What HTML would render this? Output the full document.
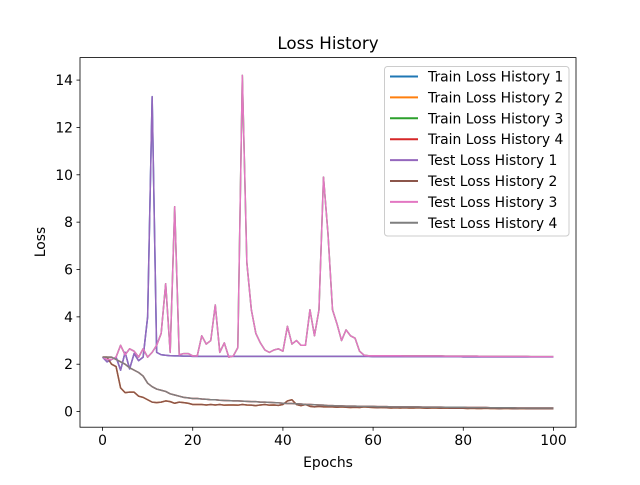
<!DOCTYPE html>
<html><head><meta charset="utf-8"><style>
body{margin:0;background:#fff;}
svg text{font-family:"DejaVu Sans","Liberation Sans",sans-serif;fill:#000;}
</style></head><body>
<svg id="chart" width="640" height="480" viewBox="0 0 640 480" xmlns="http://www.w3.org/2000/svg">
<rect width="640" height="480" fill="#fff"/>
<text x="328" y="49" font-size="16.7" text-anchor="middle">Loss History</text>
<g id="ticks"></g>
<g id="lines"></g>
<rect x="80" y="57.6" width="496" height="369.6" fill="none" stroke="#000" stroke-width="0.8"/>
<text x="328" y="467" font-size="13.9" text-anchor="middle">Epochs</text>
<text x="45" y="242" font-size="13.9" text-anchor="middle" transform="rotate(-90 45 242)">Loss</text>
<g id="legend"></g>
</svg>
<script>
const epochsMax = 100;
const xTicks = [0,20,40,60,80,100];
const yTicks = [0,2,4,6,8,10,12,14];
const seriesNames = ["Train Loss History 1","Train Loss History 2","Train Loss History 3","Train Loss History 4","Test Loss History 1","Test Loss History 2","Test Loss History 3","Test Loss History 4"];
const seriesColors = ["#1f77b4","#ff7f0e","#2ca02c","#d62728","#9467bd","#8c564b","#e377c2","#7f7f7f"];
const spikeA = [2.3,2.1,2.2,2.3,1.75,2.5,1.8,2.45,2.15,2.3,4.0,13.3,2.5,2.4,2.38,2.36,2.35,2.35,2.34,2.34,
2.33,2.33,2.33,2.33,2.33,2.33,2.33,2.33,2.33,2.33,2.33,2.33,2.33,2.33,2.33,2.33,2.33,2.33,2.33,2.33,
2.33,2.33,2.33,2.33,2.33,2.33,2.33,2.33,2.33,2.33,2.33,2.33,2.33,2.33,2.33,2.33,2.33,2.33,2.33,2.33,
2.32,2.32,2.32,2.32,2.32,2.32,2.32,2.32,2.32,2.32,2.32,2.32,2.32,2.32,2.32,2.32,2.32,2.32,2.32,2.32,
2.31,2.31,2.31,2.31,2.31,2.31,2.31,2.31,2.31,2.31,2.31,2.31,2.31,2.31,2.31,2.31,2.31,2.31,2.31,2.31,2.31];
const spikeB = [2.3,2.2,2.2,2.3,2.8,2.4,2.65,2.55,2.3,2.65,2.3,2.5,2.8,3.3,5.4,2.5,8.65,2.4,2.45,2.45,
2.35,2.35,3.2,2.85,3.0,4.5,2.5,2.9,2.3,2.35,2.7,14.2,6.3,4.3,3.3,2.9,2.6,2.5,2.6,2.65,
2.55,3.6,2.85,3.0,2.8,2.8,4.3,3.2,4.3,9.9,7.5,4.3,3.7,3.0,3.45,3.2,3.1,2.55,2.38,2.36,
2.36,2.36,2.36,2.36,2.36,2.36,2.36,2.35,2.35,2.35,2.35,2.35,2.35,2.35,2.35,2.35,2.34,2.34,2.34,2.34,
2.34,2.34,2.34,2.34,2.33,2.33,2.33,2.33,2.33,2.33,2.33,2.33,2.33,2.33,2.33,2.32,2.32,2.32,2.32,2.32,2.32];
const fastLow = [2.3,2.3,2.0,1.9,1.0,0.8,0.82,0.82,0.65,0.6,0.5,0.4,0.38,0.4,0.45,0.42,0.35,0.4,0.38,0.35,
0.3,0.3,0.3,0.28,0.3,0.28,0.3,0.27,0.28,0.28,0.27,0.3,0.28,0.27,0.25,0.28,0.3,0.27,0.28,0.26,
0.3,0.45,0.5,0.3,0.25,0.3,0.22,0.2,0.22,0.2,0.2,0.2,0.18,0.2,0.18,0.17,0.18,0.17,0.2,0.18,
0.17,0.16,0.17,0.16,0.15,0.16,0.15,0.16,0.15,0.15,0.16,0.15,0.14,0.15,0.15,0.14,0.15,0.14,0.14,0.14,
0.14,0.13,0.14,0.13,0.13,0.14,0.13,0.13,0.12,0.13,0.13,0.12,0.12,0.13,0.12,0.12,0.12,0.12,0.12,0.12,0.12];
const slowLow = [2.3,2.3,2.3,2.2,2.1,2.0,1.85,1.75,1.65,1.5,1.2,1.05,0.95,0.9,0.85,0.75,0.7,0.65,0.6,0.58,
0.55,0.55,0.53,0.52,0.5,0.5,0.48,0.47,0.46,0.45,0.45,0.44,0.43,0.42,0.42,0.4,0.4,0.39,0.38,0.37,
0.35,0.34,0.34,0.33,0.32,0.3,0.3,0.29,0.28,0.27,0.25,0.25,0.24,0.24,0.23,0.23,0.23,0.22,0.22,0.22,
0.22,0.21,0.21,0.21,0.2,0.2,0.2,0.2,0.2,0.2,0.2,0.19,0.19,0.19,0.19,0.19,0.18,0.18,0.18,0.18,
0.18,0.17,0.17,0.17,0.17,0.17,0.16,0.16,0.16,0.16,0.16,0.16,0.15,0.15,0.15,0.15,0.15,0.15,0.15,0.15,0.15];
const seriesData = [spikeA, fastLow, spikeB, slowLow, spikeA, fastLow, spikeB, slowLow];

const NS = "http://www.w3.org/2000/svg";
const L=80,R=576,T=57.6,B=427.2, xMin=-5,xMax=105,yMin=-0.66,yMax=14.95;
function xs(v){return L+(v-xMin)/(xMax-xMin)*(R-L);}
function ys(v){return B-(v-yMin)/(yMax-yMin)*(B-T);}
const tg=document.getElementById('ticks');
xTicks.forEach(t=>{
  const l=document.createElementNS(NS,'line');
  
  
  l.setAttribute('x1',xs(t));l.setAttribute('x2',xs(t));l.setAttribute('y1',B);l.setAttribute('y2',B+3.5);l.setAttribute('stroke','#000');l.setAttribute('stroke-width','0.8');tg.appendChild(l);
  const tx=document.createElementNS(NS,'text');
  
  
  tx.setAttribute('x',xs(t));tx.setAttribute('y',B+18);tx.setAttribute('font-size','13.9');tx.setAttribute('text-anchor','middle');tx.textContent=t;tg.appendChild(tx);
});
yTicks.forEach(t=>{
  const l=document.createElementNS(NS,'line');
  
  
  l.setAttribute('x1',L-3.5);l.setAttribute('x2',L);l.setAttribute('y1',ys(t));l.setAttribute('y2',ys(t));l.setAttribute('stroke','#000');l.setAttribute('stroke-width','0.8');tg.appendChild(l);
  const tx=document.createElementNS(NS,'text');
  
  
  tx.setAttribute('x',L-7);tx.setAttribute('y',ys(t)+5);tx.setAttribute('font-size','13.9');tx.setAttribute('text-anchor','end');tx.textContent=t;tg.appendChild(tx);
});
const lg=document.getElementById('lines');
seriesData.forEach((d,i)=>{
  const p=document.createElementNS(NS,'polyline');
  
  
  p.setAttribute('points',d.map((v,k)=>xs(k*epochsMax/(d.length-1))+','+ys(v)).join(' '));
  p.setAttribute('fill','none');p.setAttribute('stroke',seriesColors[i]);p.setAttribute('stroke-width','1.5');p.setAttribute('stroke-linejoin','round');
  lg.appendChild(p);
});
const leg=document.getElementById('legend');
const box=document.createElementNS(NS,'rect');


box.setAttribute('x',384.5);box.setAttribute('y',66.5);box.setAttribute('width',184.5);box.setAttribute('height',169.5);box.setAttribute('rx',3);box.setAttribute('fill','#fff');box.setAttribute('fill-opacity','0.8');box.setAttribute('stroke','#ccc');leg.appendChild(box);
seriesNames.forEach((n,i)=>{
  const y=76.5+i*20.9;
  const l=document.createElementNS(NS,'line');
  
  
  l.setAttribute('x1',390);l.setAttribute('x2',418);l.setAttribute('y1',y);l.setAttribute('y2',y);l.setAttribute('stroke',seriesColors[i]);l.setAttribute('stroke-width','2');leg.appendChild(l);
  const t=document.createElementNS(NS,'text');
  
  
  t.setAttribute('x',428);t.setAttribute('y',y+5);t.setAttribute('font-size','13.9');t.textContent=n;leg.appendChild(t);
});
</script>
</body></html>
